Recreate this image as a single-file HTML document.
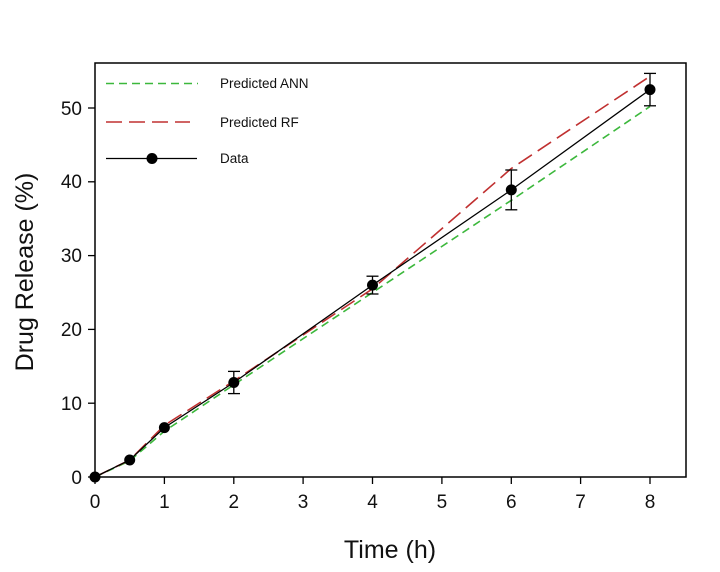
<!DOCTYPE html>
<html><head><style>body{margin:0;background:#fff}svg{display:block}text{font-family:"Liberation Sans",Arial,sans-serif;fill:#111}</style></head>
<body>
<svg width="720" height="572" viewBox="0 0 720 572">
<rect x="95" y="63" width="591" height="414" fill="none" stroke="#000" stroke-width="1.5"/>
<g stroke="#000" stroke-width="1.3">
<line x1="95" y1="477" x2="88" y2="477"/><line x1="95" y1="403.2" x2="88" y2="403.2"/><line x1="95" y1="329.4" x2="88" y2="329.4"/><line x1="95" y1="255.6" x2="88" y2="255.6"/><line x1="95" y1="181.8" x2="88" y2="181.8"/><line x1="95" y1="108" x2="88" y2="108"/>
<line x1="95" y1="477" x2="95" y2="484"/><line x1="164.4" y1="477" x2="164.4" y2="484"/><line x1="233.8" y1="477" x2="233.8" y2="484"/><line x1="303.1" y1="477" x2="303.1" y2="484"/><line x1="372.5" y1="477" x2="372.5" y2="484"/><line x1="441.9" y1="477" x2="441.9" y2="484"/><line x1="511.3" y1="477" x2="511.3" y2="484"/><line x1="580.6" y1="477" x2="580.6" y2="484"/><line x1="650" y1="477" x2="650" y2="484"/>
</g>
<g font-size="19" text-anchor="end">
<text x="82" y="484">0</text><text x="82" y="410">10</text><text x="82" y="336">20</text><text x="82" y="262">30</text><text x="82" y="188">40</text><text x="82" y="115">50</text>
</g>
<g font-size="19" text-anchor="middle">
<text x="95" y="508">0</text><text x="164.4" y="508">1</text><text x="233.8" y="508">2</text><text x="303.1" y="508">3</text><text x="372.5" y="508">4</text><text x="441.9" y="508">5</text><text x="511.3" y="508">6</text><text x="580.6" y="508">7</text><text x="650" y="508">8</text>
</g>
<text x="390" y="558" font-size="25" text-anchor="middle">Time (h)</text>
<text transform="translate(33,272) rotate(-90)" font-size="25" text-anchor="middle">Drug Release (%)</text>
<polyline fill="none" stroke="#3cb83c" stroke-width="1.6" stroke-dasharray="8,5" points="95,477 129.7,460.8 164.4,431.2 233.8,384.8 372.5,292.5 511.3,200.3 650,106.5"/>
<polyline fill="none" stroke="#c03030" stroke-width="1.6" stroke-dasharray="16,7" points="95,477 129.7,460 164.4,425.3 233.8,381 372.5,288.8 511.3,168.5 650,76.3"/>
<polyline fill="none" stroke="#000" stroke-width="1.3" points="95,477 129.7,460 164.4,427.6 233.8,382.5 372.5,285.1 511.3,189.9 650,89.6"/>
<g stroke="#000" stroke-width="1.3">
<line x1="233.8" y1="371.4" x2="233.8" y2="393.6"/><line x1="228" y1="371.4" x2="240" y2="371.4"/><line x1="228" y1="393.6" x2="240" y2="393.6"/>
<line x1="372.5" y1="276.2" x2="372.5" y2="294"/><line x1="366.5" y1="276.2" x2="378.5" y2="276.2"/><line x1="366.5" y1="294" x2="378.5" y2="294"/>
<line x1="511.3" y1="170" x2="511.3" y2="209.8"/><line x1="505.3" y1="170" x2="517.3" y2="170"/><line x1="505.3" y1="209.8" x2="517.3" y2="209.8"/>
<line x1="650" y1="73.4" x2="650" y2="105.8"/><line x1="644" y1="73.4" x2="656" y2="73.4"/><line x1="644" y1="105.8" x2="656" y2="105.8"/>
</g>
<g fill="#000">
<circle cx="95" cy="477" r="5.5"/><circle cx="129.7" cy="460" r="5.5"/><circle cx="164.4" cy="427.6" r="5.5"/><circle cx="233.8" cy="382.5" r="5.5"/><circle cx="372.5" cy="285.1" r="5.5"/><circle cx="511.3" cy="189.9" r="5.5"/><circle cx="650" cy="89.6" r="5.5"/>
</g>
<line x1="106" y1="83.5" x2="198" y2="83.5" stroke="#3cb83c" stroke-width="1.6" stroke-dasharray="8,5"/>
<line x1="106" y1="122" x2="190" y2="122" stroke="#c03030" stroke-width="1.6" stroke-dasharray="16,7"/>
<line x1="106" y1="158.5" x2="197" y2="158.5" stroke="#000" stroke-width="1.3"/>
<circle cx="152" cy="158.5" r="5.5" fill="#000"/>
<g font-size="13.5"><text x="220" y="88">Predicted ANN</text><text x="220" y="127">Predicted RF</text><text x="220" y="163">Data</text></g>
</svg>
</body></html>
